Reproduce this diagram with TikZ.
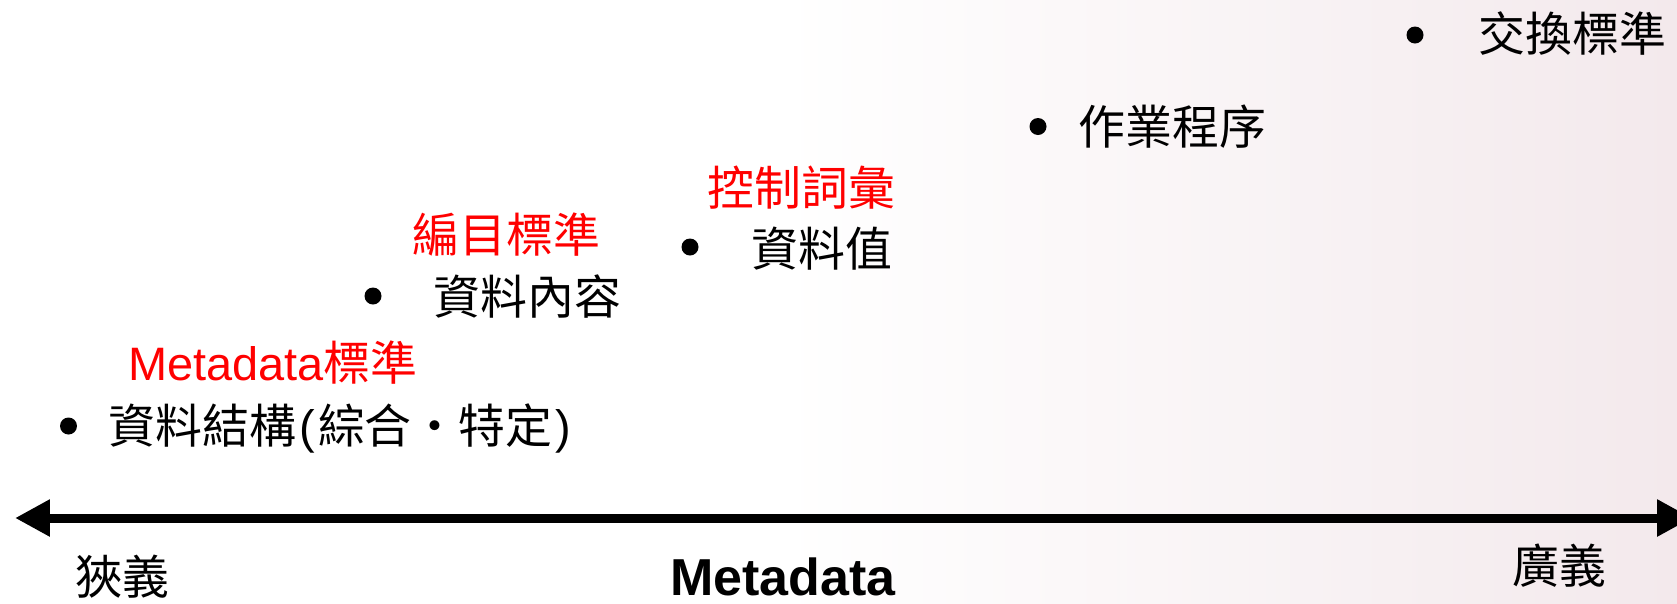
\documentclass[tikz,border=0pt]{standalone}
\usepackage{fontspec}
\setmainfont{Liberation Sans}
\newfontfamily\cjk{Noto Sans CJK TC}
\usetikzlibrary{positioning, calc, arrows.meta}
\tikzstyle{Axis} = [
%thick two-headed scale line:
line width = 0.18cm,
{Triangle[length = 0.7cm, width = 0.7cm]}-{Triangle[length = 0.7cm, width = 0.7cm]}
]
\newcommand{\paren}[1]{\makebox[0.47em]{\rmfamily #1}}
\definecolor{bgpink}{RGB}{243,233,236}
\begin{document}
\begin{tikzpicture}[
	x = 0.02cm, y = -0.02cm,
	item/.style = {anchor = base west, inner sep = 0, font = \fontsize{26.7}{32}\selectfont\cjk},
	title/.style = {item, text = red},
	end/.style = {item},
	dot/.style = {circle, fill = black, inner sep = 0, minimum size = 0.34cm},
	]
	\path[use as bounding box] (0,0) rectangle (1677,603);
	\clip (0,0) rectangle (1677,603);
	\fill[white] (0,0) rectangle (1677,603);
	\shade[left color = white, right color = bgpink] (780,0) rectangle (1677,603);

	\coordinate(L) at (15,518);
	\coordinate(R) at (1692,518);
	\draw[Axis](L)--(R);

	\node[end](NW) at (75,594){狹義};
	\node[end](BW) at (1512,583){廣義};
	\node[anchor = base, inner sep = 0, font = \fontsize{29.6}{34}\selectfont\bfseries](MD) at (783,595){Metadata};

	\node[dot](D1) at (68.5,426){};
	\node[item](I1) at (108,443){資料結構\paren{(}綜合・特定\paren{)}};
	\node[title](T1) at (128,380){{\rmfamily Metadata}標準};

	\node[dot](D2) at (373,296){};
	\node[item](I2) at (433,314){資料內容};
	\node[title](T2) at (412,252){編目標準};

	\node[dot](D3) at (690,247){};
	\node[item](I3) at (751,266){資料值};
	\node[title](T3) at (707,205){控制詞彙};

	\node[dot](D4) at (1038,126.5){};
	\node[item](I4) at (1078,144){作業程序};

	\node[dot](D5) at (1415,35){};
	\node[item](I5) at (1478,51){交換標準};
\end{tikzpicture}
\end{document}
